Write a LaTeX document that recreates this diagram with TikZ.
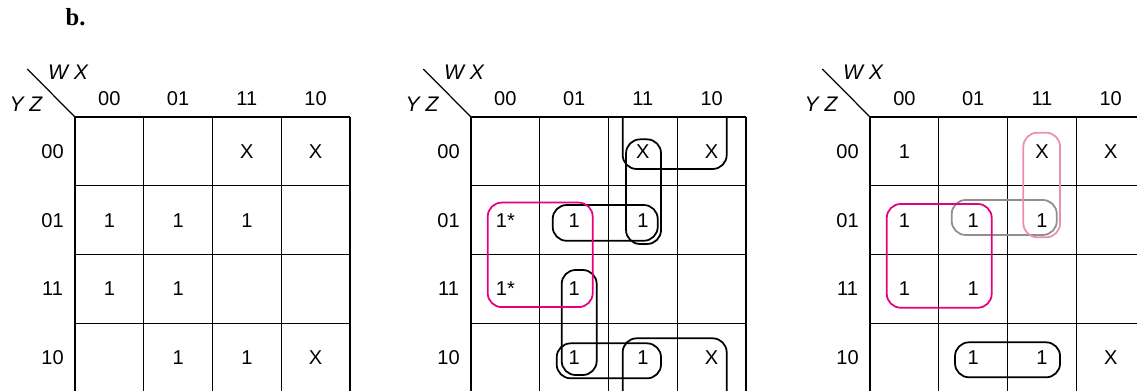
\documentclass[tikz,border=0pt]{standalone}
\usepackage{fontspec}
\setmainfont{Liberation Sans}
\newfontfamily\titlefont{Liberation Serif}
\usetikzlibrary{positioning}

\definecolor{groupmag}{HTML}{E5007D}
\definecolor{grouppink}{HTML}{EE8CB8}
\definecolor{groupgray}{HTML}{8F8F8F}

\tikzset{
  cell/.style={inner sep=0pt, font=\fontsize{11.4}{13}\selectfont},
  varlabel/.style={inner sep=0pt, font=\fontsize{12}{14}\selectfont\itshape},
  kline/.style={line width=0.7pt},
  ring/.style={line width=1pt, rounded corners=0.28cm},
}

\begin{document}
\begin{tikzpicture}[x=1.375cm, y=1.375cm]
\useasboundingbox (-1.091,-3.971) rectangle (15.447,1.702);
\node[font=\titlefont\bfseries\fontsize{14}{16}\selectfont] (title) at (0.007,1.455) {b.};

% the three empty maps
\foreach \ox/\m in {0/1, 5.76/2, 11.564/3} {
  \begin{scope}[shift={(\ox,0)}]
    \foreach \i in {0,...,4} {
      \draw[kline] (\i,0) -- (\i,-4);
      \draw[kline] (0,-\i) -- (4,-\i);
    }
    \coordinate (corner\m) at (0,0);
    \coordinate (diag\m) at (-0.694,0.698);
    \draw[kline] (diag\m) -- (corner\m);
    \node[varlabel] (wx\m) at (-0.102,0.647) {W X};
    \node[varlabel] (yz\m) at (-0.713,0.189) {Y Z};
    \foreach \lab [count=\k from 0] in {00,01,11,10} {
      \node[cell] (col\m-\k) at (\k+0.5,0.272) {\lab};
      \node[cell] (row\m-\k) at (-0.327,-\k-0.5) {\lab};
    }
  \end{scope}
}

% map 1
\foreach \c/\r/\t in {2/0/X,3/0/X,0/1/1,1/1/1,2/1/1,0/2/1,1/2/1,1/3/1,2/3/1,3/3/X}
  \node[cell] (a\c\r) at (\c+0.5,-\r-0.5) {\t};

% map 2
\begin{scope}[shift={(5.76,0)}]
  \foreach \c/\r/\t in {2/0/X,3/0/X,0/1/1*,1/1/1,2/1/1,0/2/1*,1/2/1,1/3/1,2/3/1,3/3/X}
    \node[cell] (b\c\r) at (\c+0.5,-\r-0.5) {\t};
  \draw[ring] (1.188,-1.28) rectangle (2.716,-1.80);
  \draw[ring] (2.255,-0.325) rectangle (2.764,-1.847);
  \draw[ring] (2.206,0) -- (2.206,-0.756) -- (3.719,-0.756) -- (3.719,0);
  \draw[ring] (2.206,-4) -- (2.206,-3.219) -- (3.719,-3.219) -- (3.719,-4);
  \draw[ring] (1.319,-2.225) rectangle (1.828,-3.753);
  \draw[ring] (1.246,-3.292) rectangle (2.764,-3.801);
  \draw[ring, groupmag] (0.243,-1.245) rectangle (1.770,-2.765);
\end{scope}

% map 3
\begin{scope}[shift={(11.564,0)}]
  \foreach \c/\r/\t in {0/0/1,2/0/X,3/0/X,0/1/1,1/1/1,2/1/1,0/2/1,1/2/1,1/3/1,2/3/1,3/3/X}
    \node[cell] (c\c\r) at (\c+0.5,-\r-0.5) {\t};
  \draw[ring, groupgray] (1.188,-1.207) rectangle (2.716,-1.716);
  \draw[ring, groupmag] (0.243,-1.265) rectangle (1.770,-2.774);
  \draw[ring, grouppink] (2.23,-0.228) rectangle (2.764,-1.75);
  \draw[ring] (1.236,-3.277) rectangle (2.764,-3.786);
\end{scope}
\end{tikzpicture}
\end{document}
